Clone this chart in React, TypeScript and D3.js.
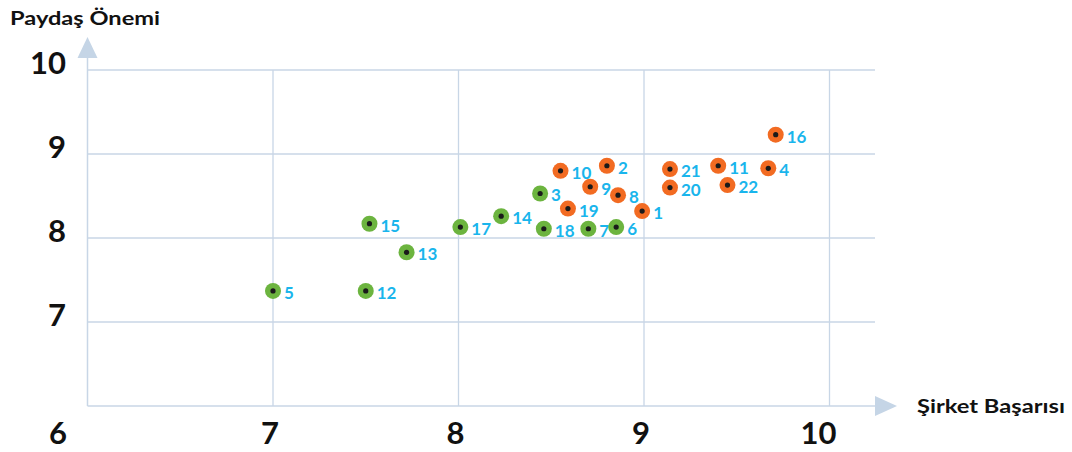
import React from 'react';
import * as d3 from 'd3';

// stakeholder items: id, company success (x), stakeholder importance (y)
const greenIds = [5, 12, 15, 13, 17, 14, 3, 18, 7, 6];
const greenX = [7.0, 7.5, 7.52, 7.72, 8.01, 8.23, 8.44, 8.46, 8.7, 8.85];
const greenY = [7.37, 7.37, 8.17, 7.83, 8.13, 8.26, 8.53, 8.11, 8.11, 8.13];

const orangeIds = [10, 2, 9, 8, 19, 1, 21, 20, 11, 22, 4, 16];
const orangeX = [8.55, 8.8, 8.71, 8.86, 8.59, 8.99, 9.14, 9.14, 9.4, 9.45, 9.67, 9.71];
const orangeY = [8.8, 8.86, 8.61, 8.51, 8.35, 8.32, 8.82, 8.6, 8.86, 8.63, 8.83, 9.23];

const xTicks = [7, 8, 9, 10];
const yTicks = [7, 8, 9, 10];

const W = 1072;
const H = 452;
const FONT = 'Lato, "Noto Sans", sans-serif';
const GRID = '#c8d6e6';

export default function App() {
  const x = d3.scaleLinear().domain([6, 10]).range([87.5, 829.5]);
  const y = d3.scaleLinear().domain([6, 10]).range([406, 70]);
  const xEnd = 875;

  const points = [
    ...greenIds.map((id, i) => ({ id, x: greenX[i], y: greenY[i], fill: '#6cb43f' })),
    ...orangeIds.map((id, i) => ({ id, x: orangeX[i], y: orangeY[i], fill: '#f26b22' })),
  ];

  return (
    <svg width={W} height={H} style={{ position: 'absolute', left: 0, top: 0 }} fontFamily={FONT}>
      {/* grid */}
      {xTicks.map((t) => (
        <line key={'gx' + t} x1={x(t)} x2={x(t)} y1={y(10)} y2={y(6)} stroke={GRID} strokeWidth={1.3} />
      ))}
      {yTicks.map((t) => (
        <line key={'gy' + t} x1={x(6)} x2={xEnd} y1={y(t)} y2={y(t)} stroke={GRID} strokeWidth={1.3} />
      ))}
      {/* axes */}
      <line x1={x(6)} x2={x(6)} y1={58} y2={y(6)} stroke={GRID} strokeWidth={1.5} />
      <line x1={x(6)} x2={xEnd} y1={y(6)} y2={y(6)} stroke={GRID} strokeWidth={1.5} />
      <path d={`M${x(6) - 10},58 L${x(6)},37 L${x(6) + 10},58 Z`} fill="#c5d5e6" />
      <path d={`M${xEnd},396 L${xEnd + 22},${y(6)} L${xEnd},416 Z`} fill="#c5d5e6" />

      {/* tick labels */}
      {yTicks.map((t) => (
        <text key={'ty' + t} x={66} y={y(t) - 8} textAnchor="end" dominantBaseline="central"
          fontSize={31} fontWeight={700} fill="#111">{t}</text>
      ))}
      {xTicks.map((t) => (
        <text key={'tx' + t} x={x(t) - (t === 10 ? 11 : 3)} y={432} textAnchor="middle" dominantBaseline="central"
          fontSize={31} fontWeight={700} fill="#111">{t}</text>
      ))}
      <text x={58} y={432} textAnchor="middle" dominantBaseline="central" fontSize={31} fontWeight={700} fill="#111">6</text>

      {/* axis titles */}
      <text x={10} y={17} dominantBaseline="central" fontSize={19} fontWeight={700} fill="#111"
        textLength={150} lengthAdjust="spacingAndGlyphs">Paydaş Önemi</text>
      <text x={917} y={406} dominantBaseline="central" fontSize={18} fontWeight={700} fill="#111"
        textLength={148} lengthAdjust="spacingAndGlyphs">Şirket Başarısı</text>

      {/* points */}
      {points.map((p) => (
        <g key={p.id} transform={`translate(${x(p.x)},${y(p.y)})`}>
          <circle r={8} fill={p.fill} />
          <circle r={2.6} fill="#1a1a1a" />
          <text x={11} y={1.5} dominantBaseline="central" fontSize={17} fontWeight={700} fill="#19b5ec">{p.id}</text>
        </g>
      ))}
    </svg>
  );
}
